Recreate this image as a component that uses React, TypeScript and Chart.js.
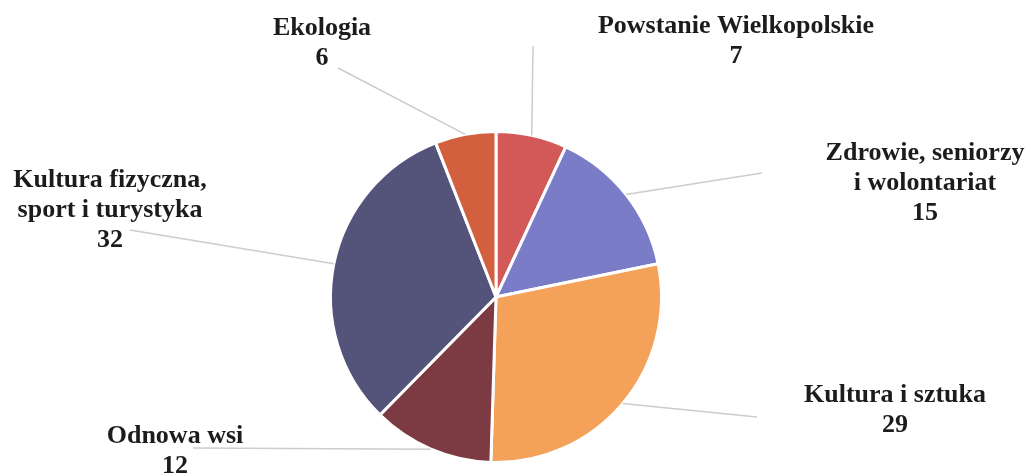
import React, { useEffect, useRef } from "react";
import { Chart, registerables } from "chart.js";

Chart.register(...registerables);

const categories: string[][] = [
  ["Powstanie Wielkopolskie"],
  ["Zdrowie, seniorzy", "i wolontariat"],
  ["Kultura i sztuka"],
  ["Odnowa wsi"],
  ["Kultura fizyczna,", "sport i turystyka"],
  ["Ekologia"],
];
const values: number[] = [7, 15, 29, 12, 32, 6];
const colors: string[] = ["#D35858", "#7A7CC8", "#F4A25A", "#7C3A42", "#54547A", "#D2603F"];

// label layout: text centre x, first baseline y, leader end x, leader end y
const labelX: number[] = [736, 925, 895, 175, 110, 322];
const labelY: number[] = [33, 160, 402, 443, 187, 35];
const leaderX: number[] = [533, 762, 757, 193, 130, 338];
const leaderY: number[] = [46, 173, 417, 448, 230, 68];
const lineHeight = 30;

const labelPlugin = {
  id: "pieLabels",
  afterDatasetsDraw(chart: any) {
    const ctx: CanvasRenderingContext2D = chart.ctx;
    const meta = chart.getDatasetMeta(0);
    ctx.save();
    meta.data.forEach((arc: any, i: number) => {
      const { x, y, startAngle, endAngle, outerRadius } = arc.getProps(
        ["x", "y", "startAngle", "endAngle", "outerRadius"],
        true
      );
      const mid = (startAngle + endAngle) / 2;
      const px = x + Math.cos(mid) * outerRadius;
      const py = y + Math.sin(mid) * outerRadius;
      ctx.strokeStyle = "#cccccc";
      ctx.lineWidth = 1.5;
      ctx.beginPath();
      ctx.moveTo(px, py);
      ctx.lineTo(leaderX[i], leaderY[i]);
      ctx.stroke();

      ctx.fillStyle = "#1c1c1c";
      ctx.font = "bold 26px 'Liberation Serif', 'DejaVu Serif', serif";
      ctx.textAlign = "center";
      ctx.textBaseline = "alphabetic";
      const lines = [...categories[i], String(values[i])];
      lines.forEach((t, k) => {
        ctx.fillText(t, labelX[i], labelY[i] + k * lineHeight);
      });
    });
    ctx.restore();
  },
};

export default function App() {
  const ref = useRef<HTMLCanvasElement | null>(null);
  useEffect(() => {
    if (!ref.current) return;
    const chart = new Chart(ref.current, {
      type: "pie",
      data: {
        labels: categories.map((c) => c.join(" ")),
        datasets: [
          {
            data: values,
            backgroundColor: colors,
            borderColor: "#ffffff",
            borderWidth: 3,
          },
        ],
      },
      options: {
        responsive: true,
        maintainAspectRatio: false,
        animation: false,
        layout: { padding: { left: 329, right: 367, top: 129, bottom: 9 } },
        plugins: {
          legend: { display: false },
          tooltip: { enabled: false },
        },
      },
      plugins: [labelPlugin],
    });
    return () => chart.destroy();
  }, []);
  return (
    <div style={{ position: "fixed", left: 0, top: 0, width: 1030, height: 474, background: "#fff" }}>
      <canvas ref={ref} />
    </div>
  );
}
